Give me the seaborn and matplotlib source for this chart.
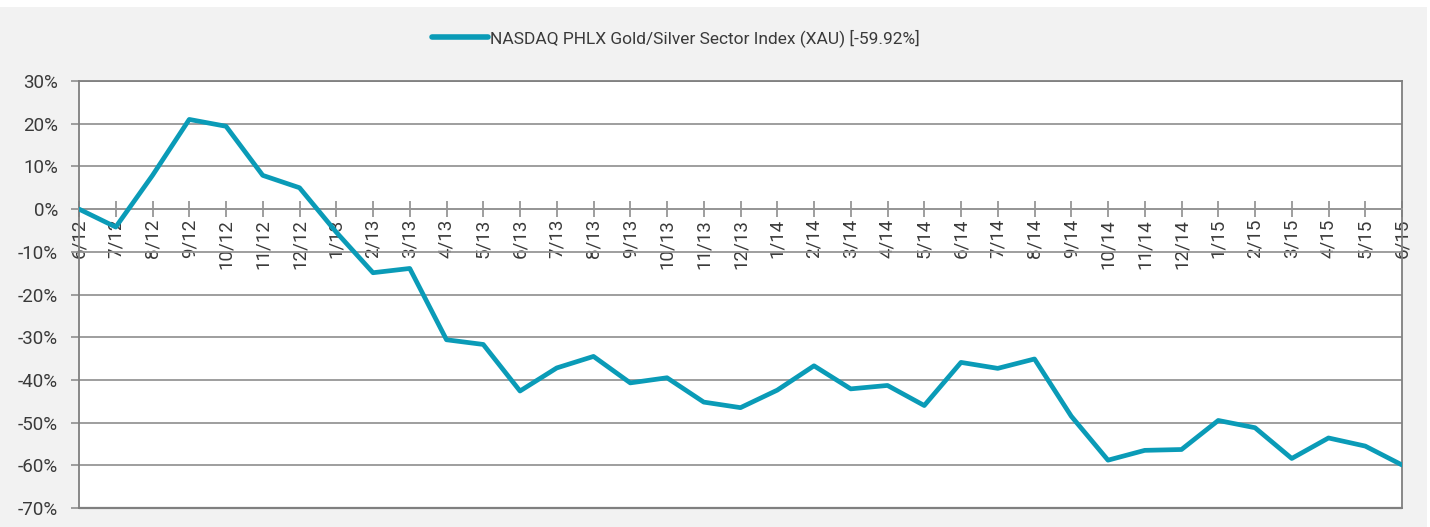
import numpy as np
import pandas as pd
import seaborn as sns
import matplotlib.pyplot as plt
from matplotlib.patches import Rectangle

# Monthly cumulative return of the XAU index, 6/12 .. 6/15
months = ['6/12', '7/12', '8/12', '9/12', '10/12', '11/12', '12/12',
          '1/13', '2/13', '3/13', '4/13', '5/13', '6/13', '7/13', '8/13', '9/13', '10/13', '11/13', '12/13',
          '1/14', '2/14', '3/14', '4/14', '5/14', '6/14', '7/14', '8/14', '9/14', '10/14', '11/14', '12/14',
          '1/15', '2/15', '3/15', '4/15', '5/15', '6/15']
returns = [0.0, -4.2, 7.9, 21.0, 19.4, 7.9, 5.0,
           -5.4, -14.9, -13.9, -30.6, -31.7, -42.6, -37.2, -34.5, -40.7, -39.5, -45.2, -46.5,
           -42.4, -36.7, -42.1, -41.3, -46.0, -35.9, -37.3, -35.1, -48.5, -58.8, -56.5, -56.3,
           -49.5, -51.2, -58.4, -53.6, -55.5, -59.92]
series_name = 'NASDAQ PHLX Gold/Silver Sector Index (XAU) [-59.92%]'
y_ticks = [30, 20, 10, 0, -10, -20, -30, -40, -50, -60, -70]

df = pd.DataFrame({'pos': np.arange(len(months)), 'ret': returns, 'series': series_name})

sns.set_style('white')
plt.rcParams['font.family'] = ['Roboto', 'DejaVu Sans']
text_col = '#3a3a3a'
grid_col = '#969696'
line_col = '#0a9bb7'
fs = 12.5
tick_fs = 13.5

fig = plt.figure(figsize=(14.3, 5.27), dpi=100)
fig.patch.set_facecolor('white')
fig.patches.append(Rectangle((0, 0), 1427 / 1430, 1 - 7 / 527, transform=fig.transFigure,
                             facecolor='#f2f2f2', edgecolor='none', zorder=-10))

ax = fig.add_axes([79 / 1430, 1 - 508 / 527, (1402 - 79) / 1430, (508 - 81) / 527])
ax.set_facecolor('white')

sns.lineplot(data=df, x='pos', y='ret', hue='series', palette=[line_col], linewidth=3.4,
             ax=ax, legend=True, zorder=5)

# move the category axis to the 0% line first (this resets the ticks)
for side in ['left', 'right', 'top']:
    ax.spines[side].set_color('#7f7f7f')
    ax.spines[side].set_linewidth(1.3)
ax.spines['bottom'].set_position(('data', 0))
ax.spines['bottom'].set_color(grid_col)
ax.spines['bottom'].set_linewidth(1.3)
ax.axhline(-70, color='#7f7f7f', linewidth=1.6, zorder=6, clip_on=False)

ax.set_xlim(0, len(months) - 1)
ax.set_ylim(-70, 30)
ax.set_yticks(y_ticks)
ax.set_yticklabels([f'{v}%' for v in y_ticks], fontsize=tick_fs, color=text_col)
ax.set_xticks(df['pos'])
ax.set_xticklabels(months, rotation=90, fontsize=tick_fs, color=text_col)
ax.set_xlabel('')
ax.set_ylabel('')

ax.grid(axis='y', color=grid_col, linewidth=1.3)
ax.set_axisbelow(True)

ax.tick_params(axis='y', length=6, width=1.3, color=grid_col, left=True, pad=9)
ax.tick_params(axis='x', length=12, width=1.3, color=grid_col, direction='inout', bottom=True, pad=1,
               labelrotation=90)

leg = ax.legend(loc='center', bbox_to_anchor=(676 / 1430, 1 - 38 / 527), bbox_transform=fig.transFigure,
                frameon=False, fontsize=fs, handlelength=3.2, handletextpad=0.15)
for t in leg.get_texts():
    t.set_color(text_col)
for h in leg.get_lines():
    h.set_linewidth(4)
    h.set_solid_capstyle('round')

fig.savefig('out.png', dpi=100)
